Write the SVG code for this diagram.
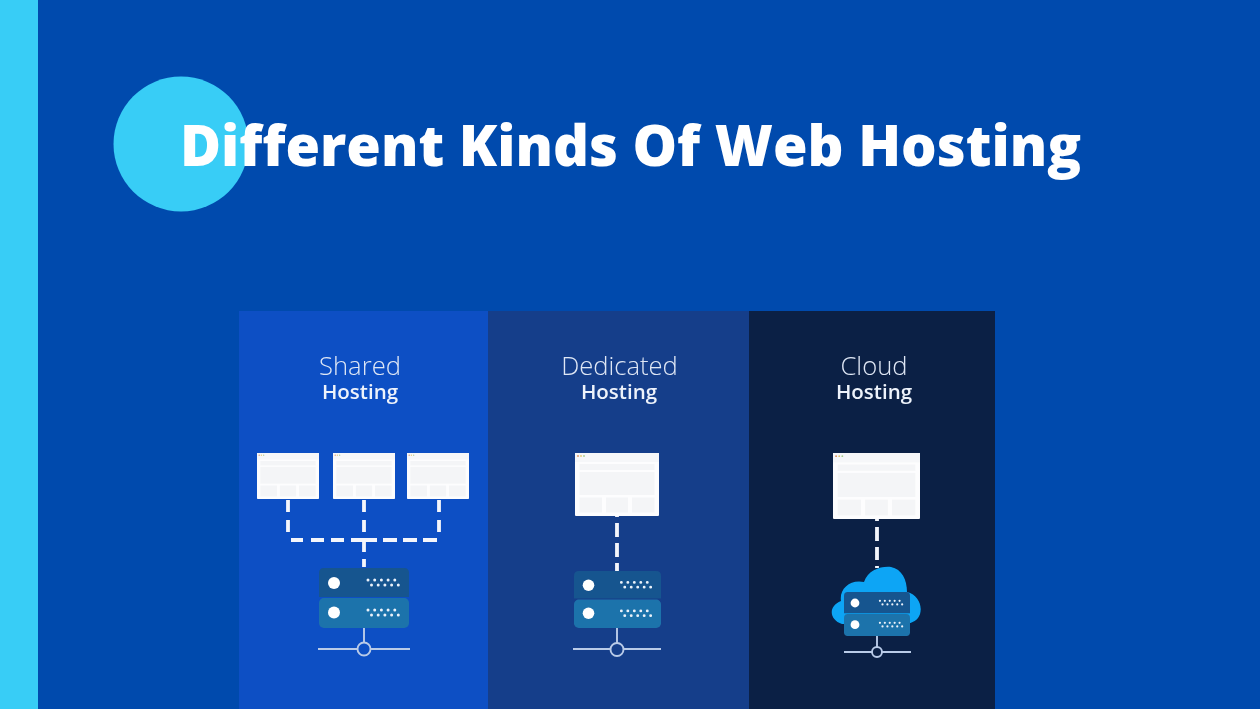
<svg xmlns="http://www.w3.org/2000/svg" xmlns:xlink="http://www.w3.org/1999/xlink" width="1260" height="709" viewBox="0 0 1260 709">
<style>
.lt{font-family:"Open Sans","Liberation Sans",sans-serif;font-weight:300;font-size:25.600px;fill:#dfe7f5;text-anchor:middle}
.bd{font-family:"Open Sans","Liberation Sans",sans-serif;font-weight:600;font-size:20.500px;fill:#eef3fb;text-anchor:middle}
.dash{fill:none;stroke:#f4f6fb;stroke-width:3.800}
.wire{fill:none;stroke:#b9cbe8;stroke-width:1.900}
.dk{fill:#17548f}.lg{fill:#1f73ab}
.w{fill:#fff}
.dot{fill:none;stroke:#eaf2fa;stroke-width:3;stroke-linecap:round;stroke-dasharray:0 6.700}
</style>
<defs>
<filter id="soft" x="-5%" y="-5%" width="110%" height="110%"><feGaussianBlur stdDeviation="0.6"/></filter>
<symbol id="page" viewBox="0 0 84 63" preserveAspectRatio="none">
<rect width="84" height="63" rx="1" fill="#fdfdfe"/>
<rect x="0" y="0" width="84" height="9" fill="#f6f7f9"/>
<circle cx="3" cy="3" r="0.900" fill="#e2925f"/><circle cx="6" cy="3" r="0.900" fill="#e6c873"/><circle cx="9" cy="3" r="0.900" fill="#a9cf8e"/>
<rect x="4.500" y="11" width="75" height="6" fill="#f4f5f7"/>
<rect x="4.500" y="19" width="75" height="23" fill="#f4f5f7"/>
<rect x="4.500" y="44.500" width="22.500" height="15" fill="#f4f5f7"/>
<rect x="31" y="44.500" width="22" height="15" fill="#f4f5f7"/>
<rect x="57" y="44.500" width="22.500" height="15" fill="#f4f5f7"/>
</symbol>
<symbol id="server" viewBox="0 0 90 60" preserveAspectRatio="none">
<path class="dk" d="M5 0H85Q90 0 90 5V29H0V5Q0 0 5 0Z"/>
<rect class="lg" y="30" width="90" height="30" rx="5"/>
<circle class="w" cx="15" cy="15" r="6"/>
<circle class="w" cx="15" cy="44.500" r="6"/>
<path class="dot" d="M49 12H77M52.500 17H82M49 42H77M52.500 47H82"/>
</symbol>
</defs>
<rect id="background" width="1260" height="709" fill="#004aad"/>
<rect id="side-bar" width="38" height="709" fill="#38cdf6"/>
<circle id="accent-circle" cx="181" cy="144" r="67.500" fill="#38cdf6"/>
<text id="title" x="630.500" y="165.500" text-anchor="middle" font-family="'Open Sans','Liberation Sans',sans-serif" font-weight="800" font-size="56" fill="#fff">Different Kinds Of Web Hosting</text>

<rect id="panel-shared" x="239" y="311" width="249" height="398" fill="#0d4fc4"/>
<rect id="panel-dedicated" x="488" y="311" width="261" height="398" fill="#153e8a"/>
<rect id="panel-cloud" x="749" y="311" width="246" height="398" fill="#0b2045"/>

<g id="connectors" filter="url(#soft)">
<path class="dash" stroke-dasharray="12 8" d="M288 500V533"/>
<path class="dash" stroke-dasharray="12 8" d="M364 500V533"/>
<path class="dash" stroke-dasharray="12 8" d="M439 500V533"/>
<path class="dash" stroke-dasharray="12 8 13 7 13 7 26 6 14 6 14 6 14" d="M291 540H437"/>
<path class="dash" stroke-dasharray="12 7" d="M364 540V567"/>
<path class="dash" stroke-dasharray="2 6 14 6 14 6 9" d="M617 515V571"/>
<path class="dash" stroke-dasharray="2 6 14 6 13 6 2" d="M877 519V568"/>
<path class="wire" d="M364 627V643M318 649H357M371 649H410"/>
<path class="wire" d="M617 628V643M573 649H610M624 649H661"/>
<path class="wire" d="M877 636V647M844 652H872M882 652H911"/>
</g>

<g id="shared" filter="url(#soft)">
<text class="lt" x="360" y="375">Shared</text>
<text class="bd" x="360" y="399">Hosting</text>
<use id="shared-page-1" xlink:href="#page" href="#page" x="257" y="453" width="62" height="46"/>
<use id="shared-page-2" xlink:href="#page" href="#page" x="333" y="453" width="62" height="46"/>
<use id="shared-page-3" xlink:href="#page" href="#page" x="407" y="453" width="62" height="46"/>
<use id="shared-server" xlink:href="#server" href="#server" x="319" y="568" width="90" height="60"/>
<circle class="wire" cx="364" cy="649" r="6.500"/>
</g>

<g id="dedicated" filter="url(#soft)">
<text class="lt" x="619.500" y="375">Dedicated</text>
<text class="bd" x="619" y="399">Hosting</text>
<use id="dedicated-page" xlink:href="#page" href="#page" x="575" y="453" width="84" height="63"/>
<use id="dedicated-server" xlink:href="#server" href="#server" x="574" y="571" width="87" height="57"/>
<circle class="wire" cx="617" cy="649.500" r="6.500"/>
</g>

<g id="cloud" filter="url(#soft)">
<text class="lt" x="874" y="375">Cloud</text>
<text class="bd" x="874" y="399">Hosting</text>
<use id="cloud-page" xlink:href="#page" href="#page" x="833" y="453" width="87" height="66"/>
<path id="cloud-shape" fill="#0ba5f5" d="M842 624C829 620 828 606 841 601C839 589 850 579 864 582C868 570 881 566 891 567C902 569 907 580 907 592C920 595 924 610 918 618C914 623 908 624 900 624Z"/>
<use id="cloud-server" xlink:href="#server" href="#server" x="844" y="592" width="66" height="44"/>
<circle class="wire" cx="877" cy="652" r="5"/>
</g>
</svg>
